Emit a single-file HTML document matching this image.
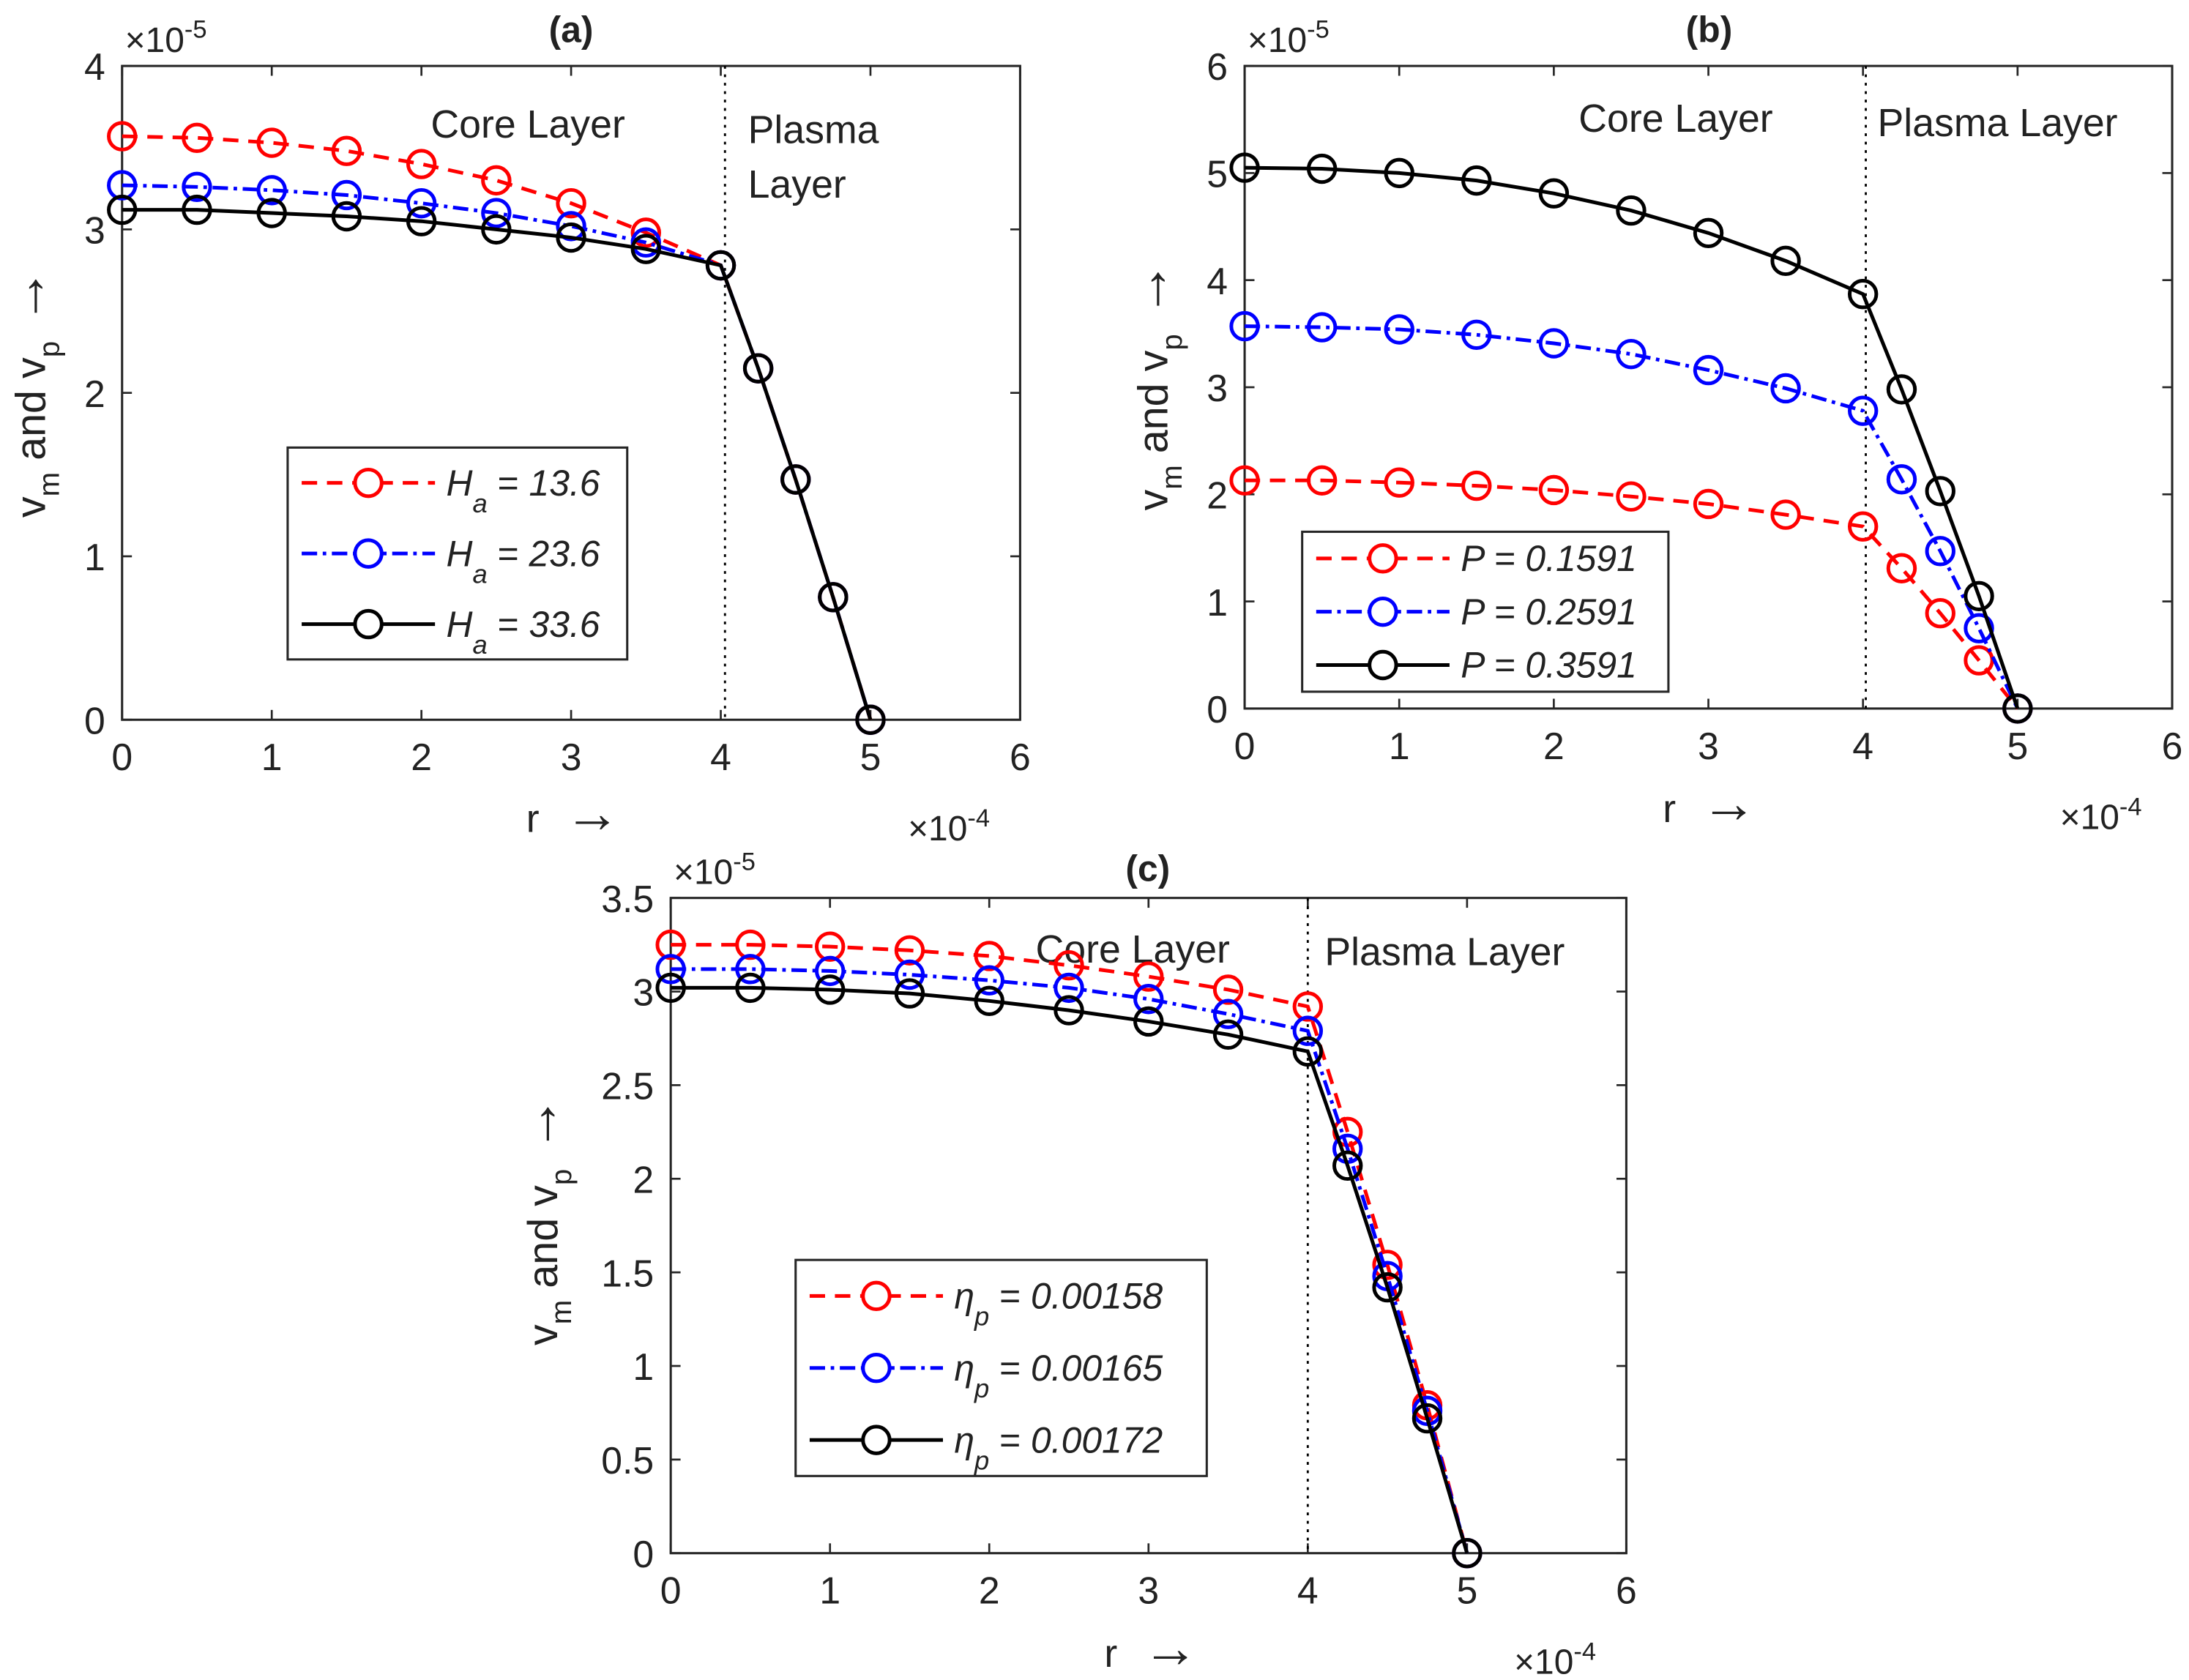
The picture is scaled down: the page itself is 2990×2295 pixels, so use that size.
<!DOCTYPE html>
<html><head><meta charset="utf-8"><style>
html,body{margin:0;padding:0;background:#fff;}
svg{display:block;}
text{font-family:"Liberation Sans","DejaVu Sans",sans-serif;fill:#222;}
</style></head><body>
<svg id="fig" width="2990" height="2295" viewBox="0 0 1560 1197.4" preserveAspectRatio="none" xmlns="http://www.w3.org/2000/svg"></svg>
<script>
const xFull = [0,0.5,1,1.5,2,2.5,3,3.5,4,4.25,4.5,4.75,5];
const aRed = [3.57,3.56,3.53,3.48,3.40,3.30,3.16,2.98,2.78,2.15,1.47,0.75,0];
const aBlue = [3.27,3.26,3.24,3.21,3.16,3.10,3.02,2.92,2.78,2.15,1.47,0.75,0];
const aBlack = [3.12,3.12,3.10,3.08,3.05,3.00,2.95,2.88,2.78,2.15,1.47,0.75,0];
const bRed = [2.13,2.13,2.11,2.08,2.04,1.98,1.91,1.81,1.70,1.31,0.89,0.45,0];
const bBlue = [3.57,3.56,3.54,3.49,3.41,3.31,3.16,2.99,2.78,2.14,1.47,0.75,0];
const bBlack = [5.05,5.04,5.00,4.93,4.81,4.65,4.44,4.18,3.87,2.98,2.03,1.05,0];
const cRed = [3.25,3.25,3.24,3.22,3.19,3.14,3.08,3.01,2.92,2.25,1.54,0.79,0];
const cBlue = [3.12,3.12,3.11,3.09,3.06,3.02,2.96,2.88,2.79,2.16,1.48,0.76,0];
const cBlack = [3.02,3.02,3.01,2.99,2.95,2.90,2.84,2.77,2.68,2.07,1.42,0.72,0];
const xTicks = [0,1,2,3,4,5,6];
const aYTicks = ['0','1','2','3','4'];
const bYTicks = ['0','1','2','3','4','5','6'];
const cYTicks = ['0','0.5','1','1.5','2','2.5','3','3.5'];
const aLegend = ['13.6','23.6','33.6'];
const bLegend = ['0.1591','0.2591','0.3591'];
const cLegend = ['0.00158','0.00165','0.00172'];

const NS='http://www.w3.org/2000/svg';
const svg=document.getElementById('fig');
function mk(tag,attrs,parent,txt){const e=document.createElementNS(NS,tag);for(const k in attrs)e.setAttribute(k,attrs[k]);if(txt!==undefined)e.textContent=txt;(parent||svg).appendChild(e);return e;}
const styles=[{c:'#ff0000',d:'11,7'},{c:'#0000ff',d:'11,4,2.5,4'},{c:'#000000',d:'none'}];

function panel(o){
  const g=mk('g',{});
  
  
  const X=v=>o.L+(v/6)*(o.R-o.L);
  const Y=v=>o.B-(v/o.ymax)*(o.B-o.T);
  const box=mk('rect',{x:o.L,y:o.T,width:o.R-o.L,height:o.B-o.T,fill:'none',stroke:'#262626','stroke-width':1.6},g);
  
  
  xTicks.forEach(t=>{
    const x=X(t);
    mk('line',{x1:x,y1:o.B,x2:x,y2:o.B-7,stroke:'#262626','stroke-width':1.4},g);
    mk('line',{x1:x,y1:o.T,x2:x,y2:o.T+7,stroke:'#262626','stroke-width':1.4},g);
    const tl=mk('text',{x:x,y:o.B+36,'font-size':27,'text-anchor':'middle'},g,String(t));
    
    
  });
  o.yt.forEach((s,i)=>{
    const v=parseFloat(s),y=Y(v);
    mk('line',{x1:o.L,y1:y,x2:o.L+7,y2:y,stroke:'#262626','stroke-width':1.4},g);
    mk('line',{x1:o.R,y1:y,x2:o.R-7,y2:y,stroke:'#262626','stroke-width':1.4},g);
    const tl=mk('text',{x:o.L-12,y:y+10,'font-size':27,'text-anchor':'end'},g,s);
    
    
  });
  const dl=mk('line',{x1:X(4)+o.dx,y1:o.T,x2:X(4)+o.dx,y2:o.B,stroke:'#000','stroke-width':1.5,'stroke-dasharray':'2,4'},g);
  
  
  o.ann.forEach(a=>{
    if(a.bg) mk('rect',{x:a.x-4,y:a.y-28,width:a.w,height:36,fill:'#fff'},g);
    const t=mk('text',{x:a.x,y:a.y,'font-size':28},g,a.t);
    
    
  });
  o.series.forEach((ys,si)=>{
    const st=styles[si];
    const pts=xFull.map((x,i)=>X(x)+','+Y(ys[i])).join(' ');
    const pl=mk('polyline',{points:pts,fill:'none',stroke:st.c,'stroke-width':2.6,'stroke-dasharray':st.d},g);
    
    
    xFull.forEach((x,i)=>{
      const c=mk('circle',{cx:X(x),cy:Y(ys[i]),r:9.5,fill:'none',stroke:st.c,'stroke-width':2.6},g);
      
      
    });
  });
  const lg=mk('g',{},g);
  
  
  mk('rect',{x:o.lg.x,y:o.lg.y,width:o.lg.w,height:o.lg.h,fill:'#fff',stroke:'#262626','stroke-width':1.6},lg);
  o.leg.forEach((v,i)=>{
    const st=styles[i];
    const y=o.lg.y+o.lg.h*(i+0.5)/3;
    const e=mk('g',{},lg);
    
    
    const x0=o.lg.x+10,x1=x0+o.lg.ll;
    mk('line',{x1:x0,y1:y,x2:x1,y2:y,stroke:st.c,'stroke-width':2.6,'stroke-dasharray':st.d},e);
    mk('circle',{cx:(x0+x1)/2,cy:y,r:9.5,fill:'#fff',stroke:st.c,'stroke-width':2.6},e);
    const t=mk('text',{x:x1+8,y:y+9,'font-size':26,'font-style':'italic'},e);
    if(o.sym==='P'){t.textContent='P = '+v;}
    else{
      const s=o.sym==='H'?'H':'\u03B7';
      mk('tspan',{},t,s);
      mk('tspan',{dy:12,'font-size':19},t,o.sym==='H'?'a':'p');
      mk('tspan',{dy:-12,'font-style':'normal'},t,' = ');
      mk('tspan',{},t,v);
    }
  });
  const tt=mk('text',{x:o.title[0],y:o.title[1],'font-size':26,'font-weight':'bold','text-anchor':'middle'},g,'('+o.id+')');
  
  
  const ey=mk('text',{x:o.L+2,y:o.T-10,'font-size':25},g);
  
  
  mk('tspan',{},ey,'\u00D710');
  mk('tspan',{dy:-10,'font-size':18},ey,'-5');
  const ex=mk('text',{x:o.R-80,y:o.B+86,'font-size':25},g);
  
  
  mk('tspan',{},ex,'\u00D710');
  mk('tspan',{dy:-10,'font-size':18},ex,'-4');
  const xl=mk('text',{x:o.xl[0],y:o.xl[1],'font-size':28},g);
  
  
  mk('tspan',{},xl,'r ');
  mk('tspan',{'font-size':40,dx:10},xl,'\u2192');
  const yl=mk('text',{transform:'translate('+o.yl[0]+','+o.yl[1]+') rotate(-90)','font-size':30,'text-anchor':'middle'},g);
  
  
  mk('tspan',{},yl,'v');
  mk('tspan',{dy:10,'font-size':21},yl,'m');
  mk('tspan',{dy:-10},yl,' and v');
  mk('tspan',{dy:10,'font-size':21},yl,'p');
  mk('tspan',{dy:-10,dx:12,'font-size':40},yl,'\u2192');
}

panel({id:'a',L:87,R:727,T:47,B:513,ymax:4,yt:aYTicks,dx:3,series:[aRed,aBlue,aBlack],leg:aLegend,sym:'H',
  lg:{x:205,y:319,w:242,h:151,ll:95},title:[407,30],xl:[375,593],yl:[32,280],
  ann:[{x:307,y:98,t:'Core Layer'},{x:533,y:102,t:'Plasma'},{x:533,y:141,t:'Layer'}]});
panel({id:'b',L:887,R:1548,T:47,B:505,ymax:6,yt:bYTicks,dx:2,series:[bRed,bBlue,bBlack],leg:bLegend,sym:'P',
  lg:{x:928,y:379,w:261,h:114,ll:95},title:[1218,30],xl:[1185,586],yl:[832,275],
  ann:[{x:1125,y:94,t:'Core Layer'},{x:1338,y:97,t:'Plasma Layer',bg:true,w:212}]});
panel({id:'c',L:478,R:1159,T:640,B:1107,ymax:3.5,yt:cYTicks,dx:0,series:[cRed,cBlue,cBlack],leg:cLegend,sym:'E',
  lg:{x:567,y:898,w:293,h:154,ll:95},title:[818,628],xl:[787,1188],yl:[397,870],
  ann:[{x:738,y:686,t:'Core Layer'},{x:944,y:688,t:'Plasma Layer',bg:true,w:212}]});
</script>
</body></html>
